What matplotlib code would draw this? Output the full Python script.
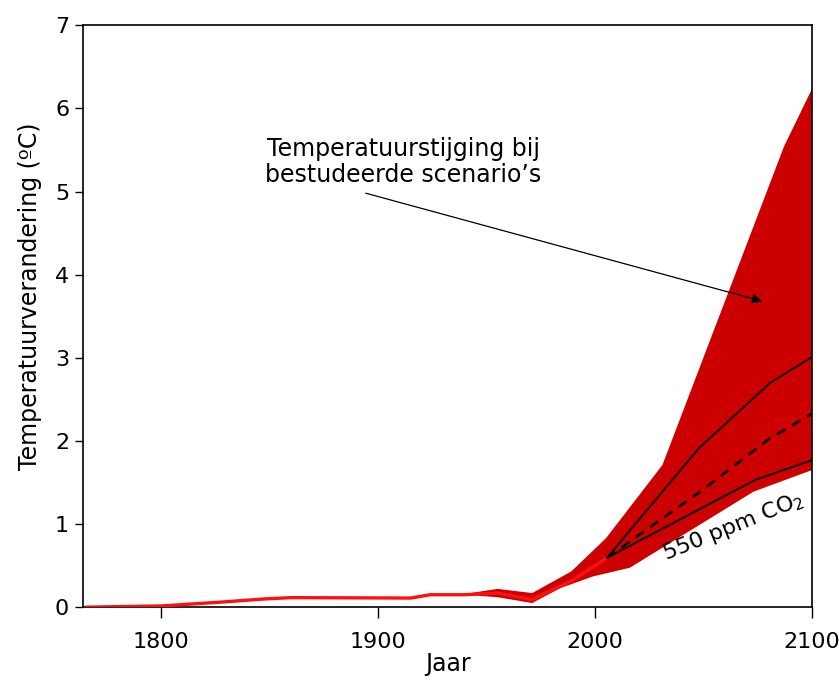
import matplotlib
matplotlib.use('Agg')
import matplotlib.pyplot as plt

# observed record (bright red line)
hist_years = [1765, 1800, 1827, 1848, 1860, 1915, 1924, 1940, 1955, 1971, 1990, 2005.5]
hist_temp = [0.0, 0.015, 0.06, 0.10, 0.115, 0.11, 0.15, 0.15, 0.17, 0.09, 0.33, 0.595]

# scenario envelope
band_up_years = [1940, 1955, 1971, 1989, 2005, 2031, 2087, 2100]
band_up = [0.16, 0.22, 0.17, 0.43, 0.83, 1.71, 5.54, 6.24]
band_lo_years = [1940, 1955, 1971, 1984, 1999, 2016, 2073, 2100]
band_lo = [0.15, 0.12, 0.05, 0.23, 0.37, 0.475, 1.39, 1.65]

# projection lines from 2005
upper_years = [2005.5, 2047.7, 2080.7, 2100]
upper_temp = [0.595, 1.91, 2.70, 3.01]
mid_years = [2005.5, 2050, 2080, 2100]
mid_temp = [0.595, 1.42, 2.02, 2.33]
low_years = [2005.5, 2073.7, 2100]
low_temp = [0.595, 1.53, 1.77]

plt.rcParams['font.family'] = 'DejaVu Sans'

fig = plt.figure(figsize=(8.39, 6.83), dpi=100)
ax = fig.add_axes([0.099, 0.111, 0.869, 0.852])

# envelope polygon: upper edge forward, lower edge back
poly_x = band_up_years + band_lo_years[::-1]
poly_y = band_up + band_lo[::-1]
ax.fill(poly_x, poly_y, color='#cc0000', lw=0, zorder=2)

ax.plot(hist_years, hist_temp, color='#ff1010', lw=2.4, zorder=3, solid_capstyle='butt')

ax.plot(upper_years, upper_temp, color='black', lw=1.3, zorder=4)
ax.plot(mid_years, mid_temp, color='black', lw=1.8, ls=(0, (4, 3)), zorder=4)
ax.plot(low_years, low_temp, color='black', lw=1.3, zorder=4)

ax.text(1911.5, 5.35, 'Temperatuurstijging bij\nbestudeerde scenario\u2019s',
        ha='center', va='center', multialignment='center', fontsize=17,
        linespacing=1.1, zorder=5)
ax.annotate('', xy=(2077, 3.68), xytext=(1894.3, 4.98),
            arrowprops=dict(arrowstyle='-|>', color='black', lw=0.9,
                            mutation_scale=15, shrinkA=0, shrinkB=0),
            zorder=5)

ax.text(2063.5, 0.97, r'550 ppm CO$_2$', rotation=22, ha='center', va='center',
        fontsize=16, zorder=5)

ax.set_xlim(1764, 2100)
ax.set_ylim(0, 7)
ax.set_xticks([1800, 1900, 2000, 2100])
ax.set_yticks(range(0, 8))
ax.tick_params(axis='x', direction='out', length=8, width=1, labelsize=16, pad=10)
ax.tick_params(axis='y', direction='out', length=6, width=1, labelsize=16, pad=4)
for s in ax.spines.values():
    s.set_linewidth(1.2)

ax.set_xlabel('Jaar', fontsize=17, labelpad=0)
ax.set_ylabel('Temperatuurverandering (\u00baC)', fontsize=17)
ax.yaxis.set_label_coords(-0.057, 0.535)

fig.savefig('out.png', dpi=100)
